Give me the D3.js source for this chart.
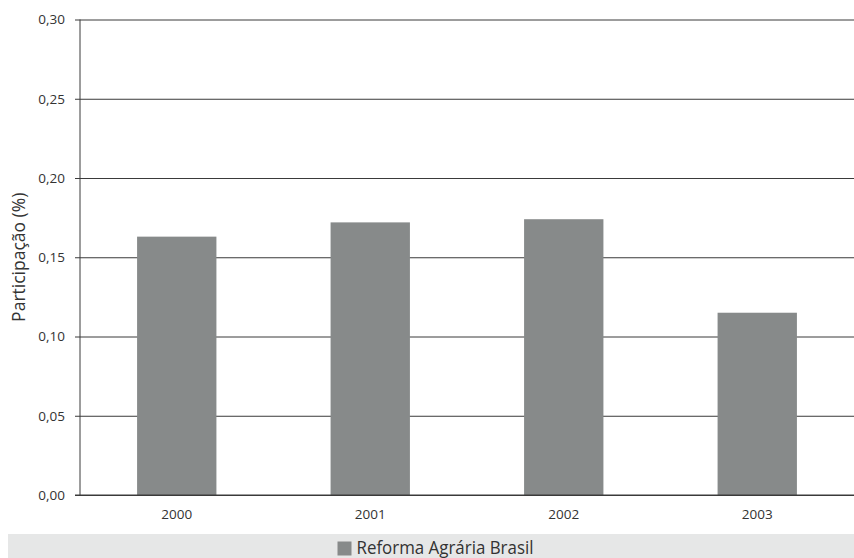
<!DOCTYPE html>
<html>
<head>
<meta charset="utf-8">
<script src="https://cdn.jsdelivr.net/npm/d3@7"></script>
<style>
  html, body { margin: 0; padding: 0; background: #fff; }
  svg { display: block; }
  text { font-family: "Open Sans", "Noto Sans", sans-serif; fill: #333; }
</style>
</head>
<body>
<svg id="chart" width="854" height="558"></svg>
<script>
// Participação da Reforma Agrária (Brasil), por ano
const years = ["2000", "2001", "2002", "2003"];
const participacao = [0.163, 0.172, 0.174, 0.115];
const yTicks = [0, 0.05, 0.10, 0.15, 0.20, 0.25, 0.30];
const seriesName = "Reforma Agrária Brasil";
const yTitle = "Participação (%)";

const W = 854, H = 558;
const margin = { left: 80, right: 0, top: 19.5, bottom: 63 };
const svg = d3.select("#chart");

const x = d3.scaleBand()
  .domain(years)
  .range([margin.left, W - margin.right])
  .paddingInner(0.59)
  .paddingOuter(0.295);

const y = d3.scaleLinear()
  .domain([0, 0.30])
  .range([H - margin.bottom, margin.top]);

const fmt = d => d.toFixed(2).replace(".", ",");

// horizontal gridlines with ticks and labels
const yAxis = d3.axisLeft(y)
  .tickValues(yTicks)
  .tickFormat(fmt)
  .tickSize(-(W - margin.left - margin.right))
  .tickPadding(10);

const gy = svg.append("g")
  .attr("transform", `translate(${margin.left},0)`)
  .call(yAxis);
gy.select(".domain").remove();
gy.selectAll(".tick line")
  .attr("x1", -5)
  .attr("stroke", "#3a3a3a")
  .attr("stroke-width", 1);
gy.selectAll(".tick text")
  .attr("x", -15)
  .style("font-size", "13.5px")
  .attr("fill", "#333");

// bars
svg.append("g")
  .selectAll("rect")
  .data(years.map((yr, i) => ({ yr, v: participacao[i] })))
  .join("rect")
  .attr("x", d => x(d.yr))
  .attr("width", x.bandwidth())
  .attr("y", d => y(d.v))
  .attr("height", d => y(0) - y(d.v))
  .attr("fill", "#878a8a");

// vertical axis line
svg.append("line")
  .attr("x1", margin.left).attr("x2", margin.left)
  .attr("y1", y(0.30)).attr("y2", y(0))
  .attr("stroke", "#3a3a3a");

// baseline redrawn over bars
svg.append("line")
  .attr("x1", margin.left - 5).attr("x2", W)
  .attr("y1", y(0)).attr("y2", y(0))
  .attr("stroke", "#3a3a3a");

// x labels
const xAxis = d3.axisBottom(x).tickSize(0).tickPadding(0);
const gx = svg.append("g")
  .attr("transform", `translate(0,${y(0)})`)
  .call(xAxis);
gx.select(".domain").remove();
gx.selectAll(".tick text")
  .attr("y", 24)
  .attr("dy", null)
  .style("font-size", "13.5px")
  .attr("fill", "#333");

// y title
svg.append("text")
  .attr("transform", `translate(25,${(y(0) + y(0.30)) / 2}) rotate(-90)`)
  .attr("text-anchor", "middle")
  .style("font-size", "17.5px")
  .text(yTitle);

// legend band
svg.append("rect")
  .attr("x", 8).attr("y", 534)
  .attr("width", W - 8).attr("height", H - 534)
  .attr("fill", "#e6e7e7");

const leg = svg.append("g");
leg.append("rect")
  .attr("x", 337.5).attr("y", 541.5)
  .attr("width", 14).attr("height", 14)
  .attr("fill", "#878a8a");
leg.append("text")
  .attr("x", 356.5).attr("y", 553.5)
  .style("font-size", "17.5px")
  .attr("textLength", 177)
  .attr("lengthAdjust", "spacingAndGlyphs")
  .text(seriesName);
</script>
</body>
</html>
